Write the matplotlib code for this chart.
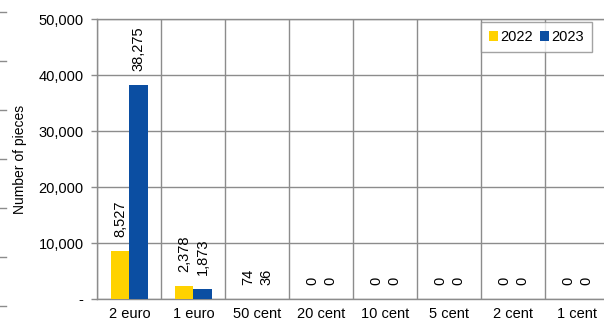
import matplotlib
matplotlib.use("Agg")
import matplotlib.pyplot as plt
from matplotlib.ticker import FuncFormatter, FixedLocator
from matplotlib.lines import Line2D
import numpy as np

plt.rcParams['font.family'] = ['Liberation Sans', 'DejaVu Sans']

categories = ["2 euro", "1 euro", "50 cent", "20 cent", "10 cent", "5 cent", "2 cent", "1 cent"]
pieces_2022 = [8527, 2378, 74, 0, 0, 0, 0, 0]
pieces_2023 = [38275, 1873, 36, 0, 0, 0, 0, 0]
series_labels = ["2022", "2023"]
y_ticks = [0, 10000, 20000, 30000, 40000, 50000]

yellow = "#FFD200"
blue = "#0B4EA2"
grid_gray = "#8C8C8C"

fig = plt.figure(figsize=(6.04, 3.22), dpi=100)
ax = fig.add_axes([0.1614, 0.0714, 0.8477, 0.8686])

x = np.arange(len(categories))
w = 0.286
b1 = ax.bar(x - w / 2, pieces_2022, w, color=yellow, label=series_labels[0], zorder=3)
b2 = ax.bar(x + w / 2, pieces_2023, w, color=blue, label=series_labels[1], zorder=3)

for bars, vals in ((b1, pieces_2022), (b2, pieces_2023)):
    for rect, v in zip(bars, vals):
        ax.annotate(f"{v:,}", (rect.get_x() + rect.get_width() / 2, v),
                    xytext=(0, 10), textcoords="offset points",
                    rotation=90, ha="center", va="bottom", fontsize=10.5, color="black")

ax.set_xlim(-0.5, len(categories) - 0.5)
ax.set_ylim(0, 50000)
ax.yaxis.set_major_locator(FixedLocator(y_ticks))
ax.yaxis.set_major_formatter(FuncFormatter(lambda v, p: "-" if v == 0 else f"{int(v):,}"))
ax.set_xticks(x)
ax.set_xticklabels(categories)
ax.xaxis.set_minor_locator(FixedLocator(np.arange(len(categories) + 1) - 0.5))

ax.grid(True, axis="y", which="major", color=grid_gray, linewidth=1.0, zorder=0)
ax.grid(True, axis="x", which="minor", color=grid_gray, linewidth=1.0, zorder=0)
ax.set_axisbelow(True)

ax.tick_params(axis="x", which="both", length=0, pad=6, labelsize=10.5)
ax.tick_params(axis="y", which="major", length=4, color=grid_gray, width=1, pad=6, labelsize=10.5)
for s in ax.spines.values():
    s.set_color(grid_gray)
    s.set_linewidth(1.0)

ax.set_ylabel("Number of pieces", fontsize=10, labelpad=8)

leg = ax.legend(loc="upper right", bbox_to_anchor=(0.966, 0.99), ncol=2, fontsize=10.5,
                handlelength=0.6, handleheight=0.6, handletextpad=0.2, columnspacing=0.45,
                borderpad=0.55, frameon=True, fancybox=False, borderaxespad=0.0)
leg.get_frame().set_edgecolor(grid_gray)
leg.get_frame().set_linewidth(1.0)

# short dashes along the left edge
for ypix in [12, 61, 110, 159, 208, 257, 306]:
    yf = 1 - ypix / 322
    fig.add_artist(Line2D([0, 6 / 604], [yf, yf], transform=fig.transFigure,
                          color=grid_gray, linewidth=1.0))

fig.savefig("out.png", dpi=100)
